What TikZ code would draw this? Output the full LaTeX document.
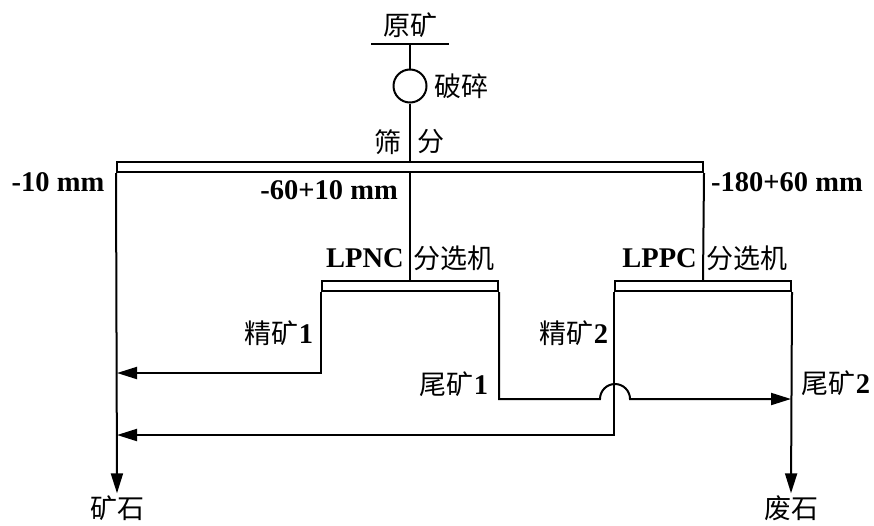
\documentclass[tikz,border=0pt]{standalone}
\usepackage{fontspec}
\setmainfont{Liberation Serif}
\newfontfamily\cjk{Noto Sans CJK SC}
\usetikzlibrary{positioning,arrows.meta}

\newcommand{\zh}[1]{{\cjk\mdseries\fontsize{27}{30}\selectfont #1}}

\tikzset{
  flow/.style={line width=2pt},
  arr/.style={flow, -{Triangle[length=20pt,width=12pt]}},
  lbl/.style={font=\bfseries\fontsize{28.5}{32}\selectfont, inner sep=2pt},
  bar/.style={draw, line width=2pt, minimum height=10pt, inner sep=0pt},
}

\begin{document}
\begin{tikzpicture}[x=1pt, y=-1pt]
  \useasboundingbox (0,0) rectangle (874,525);

  % Feed and crushing
  \node[lbl] (raw) at (410,25) {\zh{原矿}};
  \coordinate (rawL) at (371,44);
  \coordinate (rawR) at (449,44);
  \coordinate (rawM) at (410,44);
  \draw[flow] (rawL) -- (rawR);
  \node[draw, circle, line width=2pt, minimum size=33pt, inner sep=0pt] (crush) at (410,86) {};
  \node[lbl, right=5pt of crush] (crushtxt) {\zh{破碎}};
  \draw[flow] (rawM) -- (crush.north);

  % Screen
  \node[bar, minimum width=586pt] (screen) at (410,167) {};
  \draw[flow] (crush.south) -- (screen.north);
  \node[lbl] (scrA) at (388,142) {\zh{筛}};
  \node[lbl] (scrB) at (431,142) {\zh{分}};
  \node[lbl] (fine) at (58,182) {-10 mm};
  \node[lbl, anchor=east] (mid) at (400,190) {-60+10 mm};
  \node[lbl, anchor=west] (coarse) at (709,182) {-180+60 mm};

  % Sorters
  \node[bar, minimum width=176pt] (lpnc) at (410,286) {};
  \node[bar, minimum width=176pt] (lppc) at (703,286) {};
  \node[lbl, anchor=east] (lpnctxt) at (406,258) {LPNC};
  \node[lbl, anchor=west] at (411,258) {\zh{分选机}};
  \node[lbl, anchor=east] (lppctxt) at (699,258) {LPPC};
  \node[lbl, anchor=west] at (704,258) {\zh{分选机}};
  \draw[flow] (screen.south) -- (lpnc.north);
  \draw[flow] (screen.south east) -- (lppc.north);

  % Products
  \node[lbl] (ore) at (117,508) {\zh{矿石}};
  \node[lbl] (waste) at (791,508) {\zh{废石}};
  \draw[arr] (screen.south west) -- (ore.north);
  \draw[arr] (lppc.south east) -- (waste.north);

  \coordinate (con1) at (117,373);
  \coordinate (con2) at (117,435);
  \coordinate (hopL) at (600,399);
  \coordinate (tail2) at (791,399);
  \draw[arr] (lpnc.south west) |- (con1);
  \draw[arr] (lppc.south west) |- (con2);
  \draw[arr] (lpnc.south east) |- (hopL) arc[start angle=180, end angle=360, radius=15] -- (tail2);

  \node[lbl] (c1txt) at (279,333) {\zh{精矿}1};
  \node[lbl] (c2txt) at (574,333) {\zh{精矿}2};
  \node[lbl] (t1txt) at (454,384) {\zh{尾矿}1};
  \node[lbl] (t2txt) at (836,383) {\zh{尾矿}2};
\end{tikzpicture}
\end{document}
